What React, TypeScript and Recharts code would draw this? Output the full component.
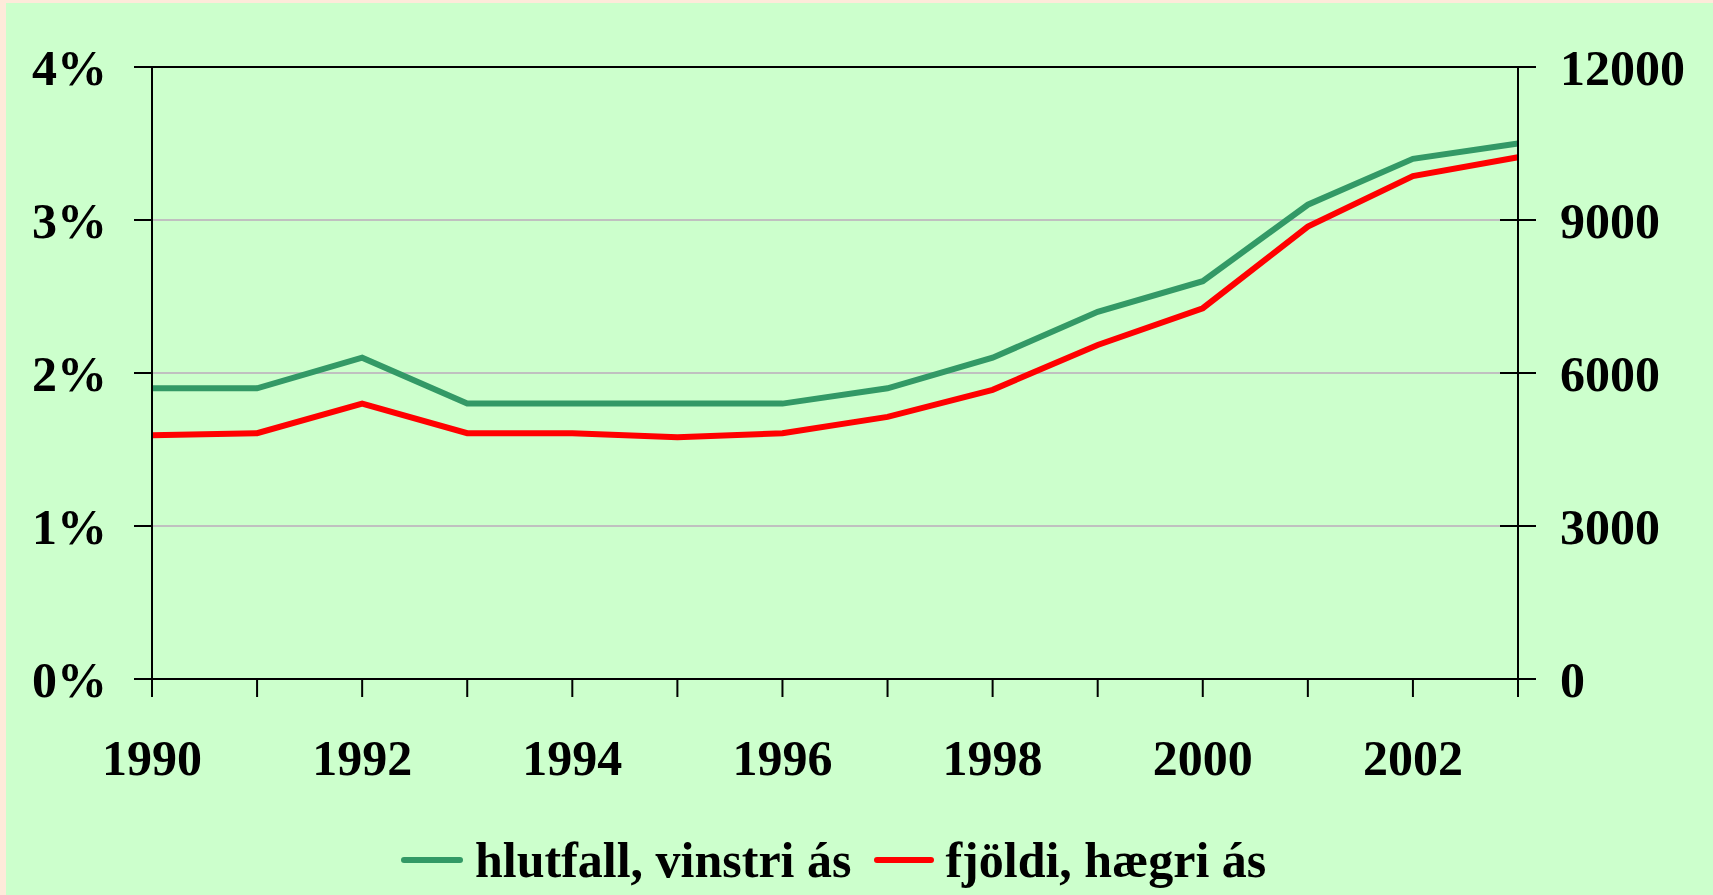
import { LineChart, Line, XAxis, YAxis, CartesianGrid, ReferenceLine } from 'recharts';

const years = [1990, 1991, 1992, 1993, 1994, 1995, 1996, 1997, 1998, 1999, 2000, 2001, 2002, 2003];
// hlutfall (%), vinstri ás
const hlutfall = [1.9, 1.9, 2.1, 1.8, 1.8, 1.8, 1.8, 1.9, 2.1, 2.4, 2.6, 3.1, 3.4, 3.5];
// fjöldi, hægri ás
const fjoldi = [4780, 4820, 5400, 4820, 4820, 4740, 4820, 5140, 5670, 6550, 7270, 8870, 9860, 10230];

const leftTicks = [0, 1, 2, 3, 4];
const rightTicks = [0, 3000, 6000, 9000, 12000];

const GREEN = '#339966';
const RED = '#FF0000';
const FONT = '"Liberation Serif", "Times New Roman", serif';

const RIGHT_TICK_SIZE = 18;
const RIGHT_TICK_MARGIN = 24;

const data = years.map((year, i) => ({ year, hlutfall: hlutfall[i], fjoldi: fjoldi[i] }));

const RightTick = (props: any) => {
  const { x, y, payload } = props;
  const axisX = x - RIGHT_TICK_SIZE - RIGHT_TICK_MARGIN;
  return (
    <g>
      <line x1={axisX - 18} x2={axisX + 18} y1={y} y2={y} stroke="#000" strokeWidth={2} />
      <text x={x} y={y} dy="0.355em" textAnchor="start" fill="#000" fontSize={50} fontWeight="bold" fontFamily={FONT}>
        {payload.value}
      </text>
    </g>
  );
};

const tickStyle = { fill: '#000', fontSize: 50, fontWeight: 'bold', fontFamily: FONT };

export default function App() {
  return (
    <div
      style={{
        position: 'absolute',
        left: 0,
        top: 0,
        width: 1713,
        height: 895,
        background: '#FEEADA',
        paddingLeft: 6,
        paddingTop: 3,
        boxSizing: 'border-box',
      }}
    >
      <LineChart
        width={1707}
        height={892}
        data={data}
        margin={{ top: 64, right: 0, left: 0, bottom: 116 }}
        style={{ background: '#CCFFCC' }}
      >
        <CartesianGrid vertical={false} stroke="#C0C0C0" strokeWidth={2} yAxisId="left" />
        <XAxis
          dataKey="year"
          type="number"
          domain={[1990, 2003]}
          ticks={years}
          interval={0}
          tickFormatter={(v: number) => (v % 2 === 0 ? String(v) : '')}
          height={100}
          tickSize={18}
          tickMargin={42}
          axisLine={{ stroke: '#000', strokeWidth: 2 }}
          tickLine={{ stroke: '#000', strokeWidth: 2 }}
          tick={tickStyle}
        />
        <YAxis
          yAxisId="left"
          orientation="left"
          domain={[0, 4]}
          ticks={leftTicks}
          width={146}
          tickSize={18}
          tickMargin={27}
          tickFormatter={(v: number) => `${v}%`}
          axisLine={{ stroke: '#000', strokeWidth: 2 }}
          tickLine={{ stroke: '#000', strokeWidth: 2 }}
          tick={tickStyle}
        />
        <YAxis
          yAxisId="right"
          orientation="right"
          domain={[0, 12000]}
          ticks={rightTicks}
          width={195}
          tickSize={RIGHT_TICK_SIZE}
          tickMargin={RIGHT_TICK_MARGIN}
          axisLine={{ stroke: '#000', strokeWidth: 2 }}
          tickLine={false}
          tick={<RightTick />}
        />
        <ReferenceLine yAxisId="left" y={4} stroke="#000" strokeWidth={2} />
        <Line
          yAxisId="left"
          dataKey="hlutfall"
          stroke={GREEN}
          strokeWidth={6}
          dot={false}
          isAnimationActive={false}
        />
        <Line
          yAxisId="right"
          dataKey="fjoldi"
          stroke={RED}
          strokeWidth={6}
          dot={false}
          isAnimationActive={false}
        />
      </LineChart>
      <div
        style={{
          position: 'absolute',
          left: 401,
          top: 835,
          display: 'flex',
          alignItems: 'center',
          fontFamily: FONT,
          fontWeight: 'bold',
          fontSize: 50,
          lineHeight: '50px',
          color: '#000',
          whiteSpace: 'nowrap',
        }}
      >
        <div style={{ width: 62, height: 6, borderRadius: 3, background: GREEN, marginRight: 12 }} />
        <span>hlutfall, vinstri ás</span>
        <div style={{ width: 60, height: 6, borderRadius: 3, background: RED, marginLeft: 23, marginRight: 11 }} />
        <span>fjöldi, hægri ás</span>
      </div>
    </div>
  );
}
